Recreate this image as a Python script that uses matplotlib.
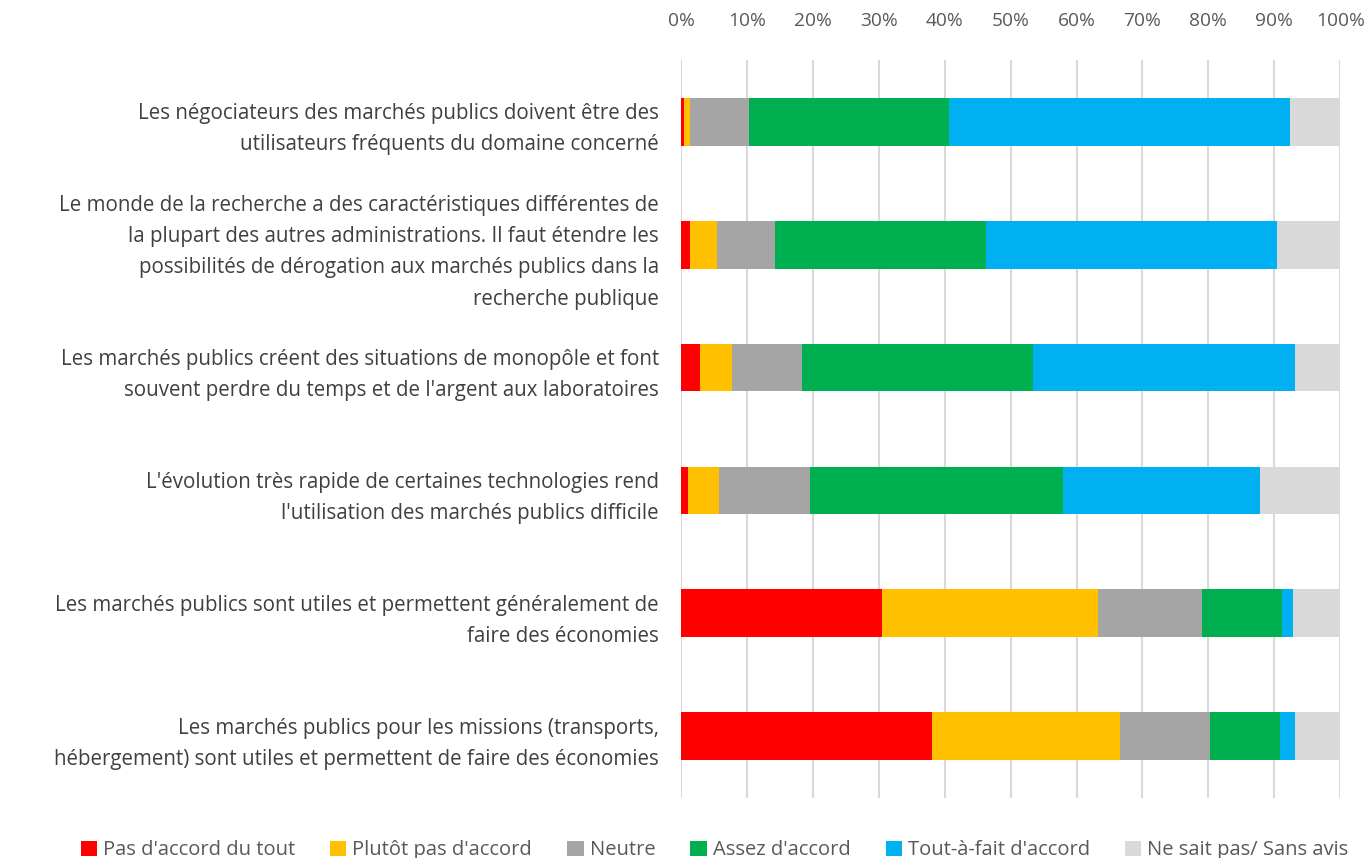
import matplotlib
matplotlib.use("Agg")
import matplotlib.pyplot as plt
import numpy as np

plt.rcParams['font.family'] = ['Open Sans', 'DejaVu Sans']

# libelles des affirmations (de haut en bas)
affirmations = [
    "Les négociateurs des marchés publics doivent être des\nutilisateurs fréquents du domaine concerné",
    "Le monde de la recherche a des caractéristiques différentes de\nla plupart des autres administrations. Il faut étendre les\npossibilités de dérogation aux marchés publics dans la\nrecherche publique",
    "Les marchés publics créent des situations de monopôle et font\nsouvent perdre du temps et de l'argent aux laboratoires",
    "L'évolution très rapide de certaines technologies rend\nl'utilisation des marchés publics difficile",
    "Les marchés publics sont utiles et permettent généralement de\nfaire des économies",
    "Les marchés publics pour les missions (transports,\nhébergement) sont utiles et permettent de faire des économies",
]

reponses = ["Pas d'accord du tout", "Plutôt pas d'accord", "Neutre",
            "Assez d'accord", "Tout-à-fait d'accord", "Ne sait pas/ Sans avis"]

# pourcentages
pas_du_tout = [0.5, 1.4, 2.9, 1.0, 30.5, 38.1]
plutot_pas = [0.9, 4.0, 4.9, 4.8, 32.8, 28.5]
neutre = [8.9, 8.9, 10.5, 13.7, 15.7, 13.6]
assez = [30.3, 31.9, 35.1, 38.5, 12.2, 10.6]
tout_a_fait = [51.8, 44.2, 39.8, 29.9, 1.6, 2.4]
sans_avis = [7.6, 9.6, 6.8, 12.1, 7.2, 6.8]

couleurs = ["#FF0000", "#FFC000", "#A5A5A5", "#00B050", "#00B0F0", "#D9D9D9"]

series = [pas_du_tout, plutot_pas, neutre, assez, tout_a_fait, sans_avis]

fig = plt.figure(figsize=(13.69, 8.58), dpi=100)
ax = fig.add_axes([0.4975, 0.070, 0.4815, 0.860])

y = np.arange(len(affirmations))
gauche = np.zeros(len(affirmations))
for vals, nom, c in zip(series, reponses, couleurs):
    ax.barh(y, vals, left=gauche, height=0.39, color=c, label=nom, zorder=3)
    gauche += np.array(vals)

ax.set_xlim(0, 100)
ax.set_ylim(len(affirmations) - 0.5, -0.5)
ax.set_xticks(np.arange(0, 101, 10))
ax.set_xticklabels([f"{v}%" for v in range(0, 101, 10)])
ax.xaxis.tick_top()
ax.tick_params(axis='x', length=0, pad=22, labelsize=13.8, labelcolor="#595959")
ax.set_yticks(y)
ax.set_yticklabels(affirmations, linespacing=1.65)
ax.tick_params(axis='y', length=0, pad=16, labelsize=14.8, labelcolor="#404040")
ax.grid(axis='x', color="#D9D9D9", linewidth=1.5, zorder=0)
for s in ax.spines.values():
    s.set_visible(False)

fig.legend(loc="lower center", bbox_to_anchor=(0.522, -0.024), ncol=6, frameon=False,
           fontsize=14.5, handlelength=0.8, handleheight=0.8, handletextpad=0.3,
           columnspacing=1.75, labelcolor="#595959")

fig.savefig("out.png", dpi=100)
